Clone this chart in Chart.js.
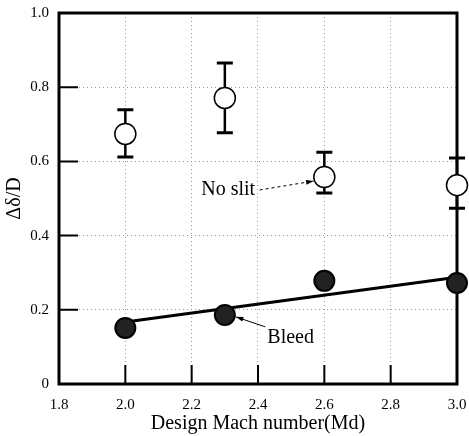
<!DOCTYPE html>
<html>
<head>
<meta charset="utf-8">
<script src="https://cdn.jsdelivr.net/npm/chart.js@4"></script>
<style>
  html, body { margin: 0; padding: 0; background: #fff; }
  #wrap { width: 469px; height: 436px; position: relative; }
</style>
</head>
<body>
<div id="wrap"><canvas id="c" width="469" height="436"></canvas></div>
<script>
// ---- data ----
const machNumbers = [2.0, 2.3, 2.6, 3.0];
const noSlit      = [0.674, 0.771, 0.558, 0.536];
const noSlitLow   = [0.612, 0.677, 0.515, 0.474];
const noSlitHigh  = [0.739, 0.865, 0.625, 0.609];
const bleed       = [0.151, 0.186, 0.278, 0.272];
const fitX        = [2.0, 3.0];
const fitY        = [0.167, 0.288];
const xTicks      = [1.8, 2.0, 2.2, 2.4, 2.6, 2.8, 3.0];
const yTicks      = [0, 0.2, 0.4, 0.6, 0.8, 1.0];
const annotations = [
  { text: 'No slit', x: 2.229, y: 0.509, from: [2.405, 0.523], to: [2.568, 0.547], dashed: true },
  { text: 'Bleed',   x: 2.428, y: 0.110, from: [2.422, 0.154], to: [2.333, 0.181], dashed: false }
];

const SERIF = "'Liberation Serif', 'DejaVu Serif', serif";

const decor = {
  id: 'decor',
  beforeDatasetsDraw(chart) {
    const ctx = chart.ctx, xs = chart.scales.x, ys = chart.scales.y, a = chart.chartArea;
    ctx.save();
    // frame
    ctx.strokeStyle = '#000';
    ctx.lineWidth = 3;
    ctx.strokeRect(a.left, a.top, a.right - a.left, a.bottom - a.top);
    // inward ticks
    ctx.lineWidth = 2;
    ctx.beginPath();
    yTicks.forEach(v => {
      if (v <= 0 || v >= 1) return;
      const y = ys.getPixelForValue(v);
      ctx.moveTo(a.left, y); ctx.lineTo(a.left + 19, y);
    });
    xTicks.forEach(v => {
      if (v <= 1.8 || v >= 3.0) return;
      const x = xs.getPixelForValue(v);
      ctx.moveTo(x, a.bottom); ctx.lineTo(x, a.bottom - 19);
    });
    ctx.stroke();
    // error bars
    machNumbers.forEach((m, i) => {
      const x = xs.getPixelForValue(m);
      const yl = ys.getPixelForValue(noSlitLow[i]);
      const yh = ys.getPixelForValue(noSlitHigh[i]);
      ctx.lineWidth = 2.5;
      ctx.beginPath();
      ctx.moveTo(x, yl); ctx.lineTo(x, yh);
      ctx.stroke();
      ctx.lineWidth = 3;
      ctx.beginPath();
      ctx.moveTo(x - 8, yl); ctx.lineTo(x + 8, yl);
      ctx.moveTo(x - 8, yh); ctx.lineTo(x + 8, yh);
      ctx.stroke();
    });
    ctx.restore();
  },
  afterDatasetsDraw(chart) {
    const ctx = chart.ctx, xs = chart.scales.x, ys = chart.scales.y;
    ctx.save();
    ctx.fillStyle = '#000';
    ctx.strokeStyle = '#000';
    ctx.font = '20px ' + SERIF;
    ctx.textBaseline = 'alphabetic';
    ctx.textAlign = 'left';
    annotations.forEach(an => {
      ctx.fillText(an.text, xs.getPixelForValue(an.x), ys.getPixelForValue(an.y));
      const x1 = xs.getPixelForValue(an.from[0]), y1 = ys.getPixelForValue(an.from[1]);
      const x2 = xs.getPixelForValue(an.to[0]), y2 = ys.getPixelForValue(an.to[1]);
      ctx.lineWidth = 1;
      ctx.setLineDash(an.dashed ? [3, 3] : []);
      ctx.beginPath(); ctx.moveTo(x1, y1); ctx.lineTo(x2, y2); ctx.stroke();
      ctx.setLineDash([]);
      const ang = Math.atan2(y2 - y1, x2 - x1);
      ctx.beginPath();
      ctx.moveTo(x2, y2);
      ctx.lineTo(x2 - 8 * Math.cos(ang - 0.3), y2 - 8 * Math.sin(ang - 0.3));
      ctx.lineTo(x2 - 8 * Math.cos(ang + 0.3), y2 - 8 * Math.sin(ang + 0.3));
      ctx.closePath(); ctx.fill();
    });
    ctx.restore();
  }
};

new Chart(document.getElementById('c'), {
  type: 'scatter',
  data: {
    datasets: [
      {
        label: 'No slit',
        data: machNumbers.map((m, i) => ({ x: m, y: noSlit[i] })),
        pointRadius: 10.5,
        pointBackgroundColor: '#fff',
        pointBorderColor: '#000',
        pointBorderWidth: 1.5,
        clip: false
      },
      {
        label: 'Bleed',
        data: machNumbers.map((m, i) => ({ x: m, y: bleed[i] })),
        pointRadius: 10,
        pointBackgroundColor: '#222',
        pointBorderColor: '#000',
        pointBorderWidth: 2,
        clip: false
      },
      {
        type: 'line',
        label: 'Fit',
        data: fitX.map((x, i) => ({ x: x, y: fitY[i] })),
        borderColor: '#000',
        borderWidth: 3,
        pointRadius: 0,
        fill: false,
        clip: false
      }
    ]
  },
  options: {
    responsive: false,
    animation: false,
    devicePixelRatio: 1,
    layout: { padding: { top: 13, right: 7, left: 0, bottom: 0 } },
    plugins: { legend: { display: false }, tooltip: { enabled: false } },
    scales: {
      x: {
        type: 'linear', min: 1.8, max: 3.0,
        afterBuildTicks: s => { s.ticks = xTicks.map(v => ({ value: v })); },
        afterFit: s => { s.height = 52; s.paddingLeft = 0; s.paddingRight = 0; },
        grid: { color: '#999', lineWidth: 1, drawTicks: false },
        border: { display: false, dash: [1, 3] },
        ticks: {
          padding: 12, color: '#000', maxRotation: 0, autoSkip: false,
          font: { family: SERIF, size: 15 },
          callback: v => Number(v).toFixed(1)
        },
        title: {
          display: true, text: 'Design Mach number(Md)', color: '#000',
          font: { family: SERIF, size: 20 }, padding: { top: 0, bottom: 0 }
        }
      },
      y: {
        type: 'linear', min: 0, max: 1.0,
        afterBuildTicks: s => { s.ticks = yTicks.map(v => ({ value: v })); },
        afterFit: s => { s.width = 59; s.paddingTop = 0; s.paddingBottom = 0; },
        grid: { color: '#999', lineWidth: 1, drawTicks: false },
        border: { display: false, dash: [1, 3] },
        ticks: {
          padding: 10, color: '#000', autoSkip: false,
          font: { family: SERIF, size: 15 },
          callback: v => (v === 0 ? '0' : Number(v).toFixed(1))
        },
        title: {
          display: true, text: 'Δδ/D', color: '#000',
          font: { family: SERIF, size: 20 }, padding: { top: 3, bottom: 0 }
        }
      }
    }
  },
  plugins: [decor]
});
</script>
</body>
</html>
